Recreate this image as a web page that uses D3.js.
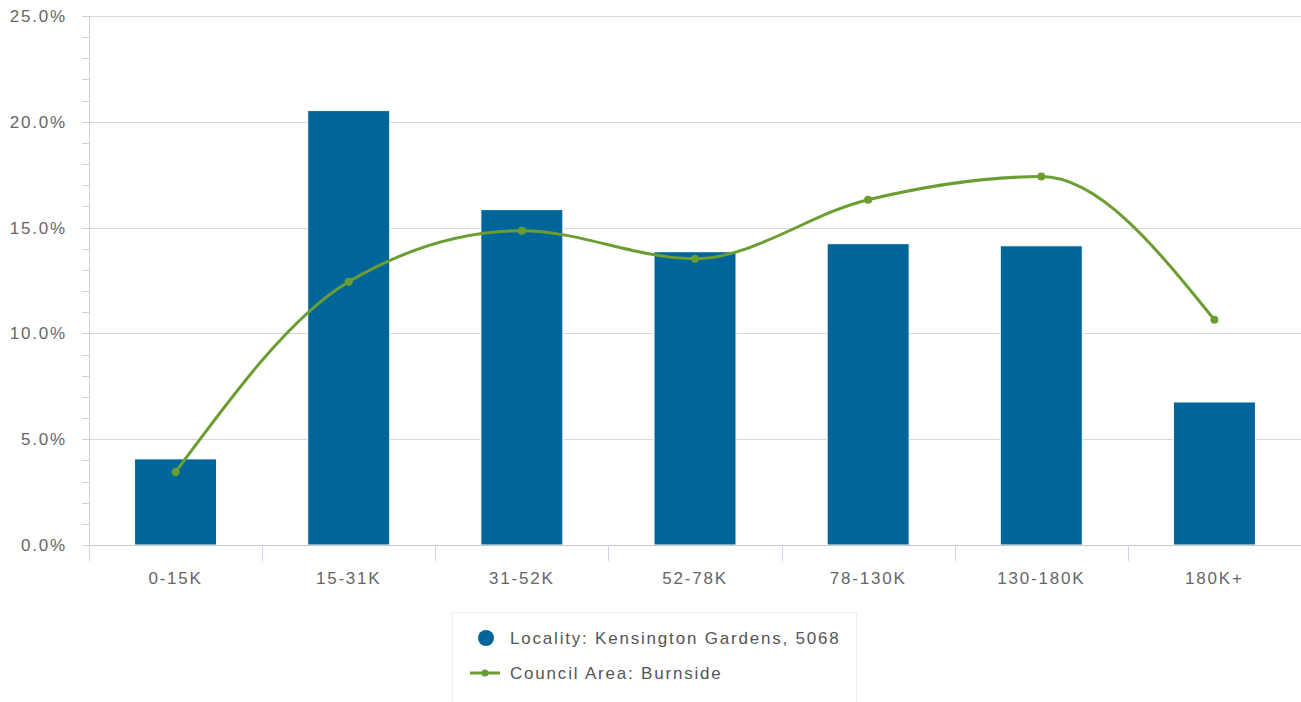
<!DOCTYPE html>
<html><head><meta charset="utf-8">
<script src="https://cdn.jsdelivr.net/npm/d3@7"></script>
<style>
body{margin:0;background:#fff;}
text{font-family:"Liberation Sans",Arial,sans-serif;}
</style></head>
<body><svg id="c" width="1301" height="702"></svg>
<script>
const categories=["0-15K","15-31K","31-52K","52-78K","78-130K","130-180K","180K+"];
const localityValues=[4.07,20.53,15.85,13.86,14.24,14.14,6.76];
const councilValues=[3.45,12.44,14.85,13.53,16.32,17.41,10.64];
const yTicks=[0,5,10,15,20,25];
const seriesNames=["Locality: Kensington Gardens, 5068","Council Area: Burnside"];

const svg=d3.select("#c");
const L=89,R=1301,T=16,B=545;
const x=d3.scaleBand().domain(categories).range([L,R]).paddingInner(0).paddingOuter(0);
const y=d3.scaleLinear().domain([0,25]).range([B,T]);
const fontSize=17,ls="1.8px";

// gridlines
svg.append("g").selectAll("line").data(yTicks).join("line")
 .attr("x1",L).attr("x2",R).attr("y1",d=>Math.round(y(d))+0.5).attr("y2",d=>Math.round(y(d))+0.5)
 .attr("stroke","#d8d8d8").attr("stroke-width",1);
// y axis line and ticks
svg.append("line").attr("x1",L+0.5).attr("x2",L+0.5).attr("y1",T).attr("y2",B).attr("stroke","#d0d0d0");
const minor=d3.range(0,25,1).filter(d=>d%5!==0);
svg.append("g").selectAll("line").data(minor).join("line")
 .attr("x1",L-7).attr("x2",L).attr("y1",d=>Math.round(y(d))+0.5).attr("y2",d=>Math.round(y(d))+0.5)
 .attr("stroke","#d0d0d0");
svg.append("g").selectAll("line").data(yTicks).join("line")
 .attr("x1",L-7).attr("x2",L).attr("y1",d=>Math.round(y(d))+0.5).attr("y2",d=>Math.round(y(d))+0.5)
 .attr("stroke","#d0d0d0");
svg.append("g").selectAll("text").data(yTicks).join("text")
 .attr("x",67).attr("y",d=>y(d)+6).attr("text-anchor","end")
 .attr("font-size",fontSize).attr("letter-spacing",ls).attr("fill","#666")
 .text(d=>d.toFixed(1)+"%");

// bars
svg.append("g").selectAll("rect").data(categories).join("rect")
 .attr("x",(d)=>x(d)+x.bandwidth()/2-41).attr("width",82)
 .attr("y",(d,i)=>y(localityValues[i])).attr("height",(d,i)=>B-y(localityValues[i]))
 .attr("fill","#006699").attr("stroke","#ffffff").attr("stroke-width",1);

// x axis
svg.append("line").attr("x1",L).attr("x2",R).attr("y1",B+0.5).attr("y2",B+0.5).attr("stroke","#c8c8c8");
const bounds=categories.map(d=>x(d)).concat([R]);
svg.append("g").selectAll("line").data(bounds).join("line")
 .attr("x1",d=>Math.round(d)+0.5).attr("x2",d=>Math.round(d)+0.5).attr("y1",B).attr("y2",B+16)
 .attr("stroke","#ccd6eb");
svg.append("g").selectAll("text").data(categories).join("text")
 .attr("x",d=>x(d)+x.bandwidth()/2).attr("y",584).attr("text-anchor","middle")
 .attr("font-size",fontSize).attr("letter-spacing",ls).attr("fill","#666").text(d=>d);

// line
const pts=categories.map((d,i)=>[x(d)+x.bandwidth()/2,y(councilValues[i])]);
svg.append("path").attr("d",d3.line().curve(d3.curveMonotoneX)(pts))
 .attr("fill","none").attr("stroke","#6b9e32").attr("stroke-width",3);
svg.append("g").selectAll("circle").data(pts).join("circle")
 .attr("cx",d=>d[0]).attr("cy",d=>d[1]).attr("r",4).attr("fill","#6b9e32");

// legend
svg.append("rect").attr("x",452.5).attr("y",612.5).attr("width",404).attr("height",100)
 .attr("fill","#fff").attr("stroke","#eeeeee");
svg.append("circle").attr("cx",486).attr("cy",638).attr("r",8).attr("fill","#006699");
svg.append("line").attr("x1",470).attr("x2",500).attr("y1",673).attr("y2",673).attr("stroke","#6b9e32").attr("stroke-width",3);
svg.append("circle").attr("cx",485).attr("cy",673).attr("r",3.5).attr("fill","#6b9e32");
svg.append("text").attr("x",510).attr("y",644).attr("font-size",fontSize).attr("letter-spacing",ls).attr("fill","#555").text(seriesNames[0]);
svg.append("text").attr("x",510).attr("y",679).attr("font-size",fontSize).attr("letter-spacing",ls).attr("fill","#555").text(seriesNames[1]);
</script></body></html>
